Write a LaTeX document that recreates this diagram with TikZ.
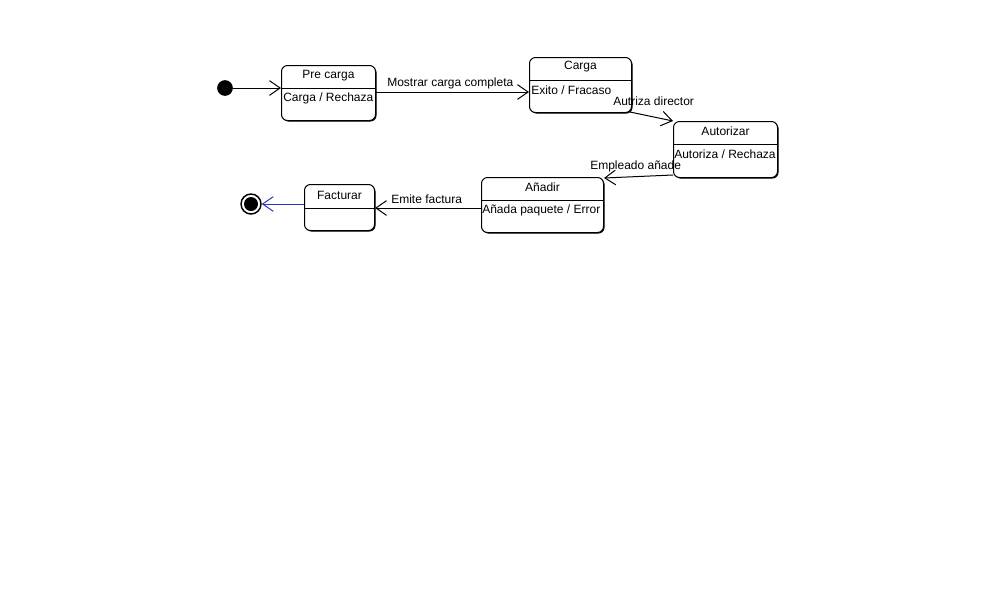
\documentclass[tikz,border=0pt]{standalone}
\usepackage{fontspec}
\setmainfont{Liberation Sans}
\usetikzlibrary{arrows.meta,shadows}
\definecolor{finblue}{RGB}{50,50,190}
\tikzset{
  box/.style={draw, fill=white, rounded corners=4.5pt, inner sep=0pt, anchor=north west, line width=0.75pt,
    general shadow={fill=black, shadow xshift=0.75pt, shadow yshift=-0.75pt}},
  lbl/.style={inner sep=0pt, font=\fontsize{9}{11}\selectfont},
  conn/.style={line width=0.75pt, -{Straight Barb[length=8pt, width=11pt, line width=0.75pt]}},
  divline/.style={line width=0.75pt}
}
\begin{document}
\begin{tikzpicture}[x=0.75pt, y=-0.75pt]
\useasboundingbox (0,0) rectangle (993,608);
% states
\node[box, minimum width=70.5pt, minimum height=41.25pt] (pc) at (281,65) {};
\node[box, minimum width=76.5pt, minimum height=41.25pt] (cg) at (529,57) {};
\node[box, minimum width=78pt, minimum height=42pt] (au) at (673,121) {};
\node[box, minimum width=91.5pt, minimum height=41.25pt] (an) at (481,177) {};
\node[box, minimum width=52.5pt, minimum height=34.5pt] (fa) at (304,184) {};
% dividers
\draw[divline] (pc.west |- 0,88) -- (pc.east |- 0,88);
\draw[divline] (cg.west |- 0,80) -- (cg.east |- 0,80);
\draw[divline] (au.west |- 0,144) -- (au.east |- 0,144);
\draw[divline] (an.west |- 0,200) -- (an.east |- 0,200);
\draw[divline] (fa.west |- 0,208) -- (fa.east |- 0,208);
% titles
\node[lbl] (pct) at (pc.north |- 0,76) {Pre carga};
\node[lbl] (cgt) at (cg.north |- 0,67) {Carga};
\node[lbl] (aut) at (au.north |- 0,131) {Autorizar};
\node[lbl] (ant) at (an.north |- 0,187) {Añadir};
\node[lbl] (fat) at (fa.north |- 0,195) {Facturar};
% contents
\node[lbl, anchor=west] (pcc) at (283,98) {Carga / Rechaza};
\node[lbl, anchor=west] (cgc) at (531,90) {Exito / Fracaso};
\node[lbl, anchor=west] (auc) at (674,154) {Autoriza / Rechaza};
\node[lbl, anchor=west] (anc) at (482,210) {Añada paquete / Error};
% pseudo states
\node[circle, fill=black, draw, line width=0.75pt, minimum size=11pt, inner sep=0pt] (ini) at (225,88) {};
\node[circle, draw, fill=white, line width=1.1pt, minimum size=15pt, inner sep=0pt] (fin) at (251,204) {};
\node[circle, fill=black, minimum size=10.5pt, inner sep=0pt] (finin) at (fin.center) {};
% transitions
\draw[conn] (ini) -- (pc.west |- ini);
\draw[conn] (pc.east |- 0,92) -- (cg.west |- 0,92);
\draw[conn] (cg.south east) ++(-2,-1) coordinate (c1) (c1) -- (au.north west);
\draw[conn] (au.west |- 0,175) -- (an.north east |- 0,178);
\draw[conn] (an.west |- 0,208) -- (fa.east |- 0,208);
\draw[conn, draw=finblue] (fa.west |- 0,204) -- (fin.east);
% labels
\node[lbl, anchor=west] (l1) at (387,83) {Mostrar carga completa};
\node[lbl, anchor=west] (l2) at (613,101) {Autriza director};
\node[lbl, anchor=west] (l3) at (590,166) {Empleado añade};
\node[lbl, anchor=west] (l4) at (391,199) {Emite factura};
\end{tikzpicture}
\end{document}
